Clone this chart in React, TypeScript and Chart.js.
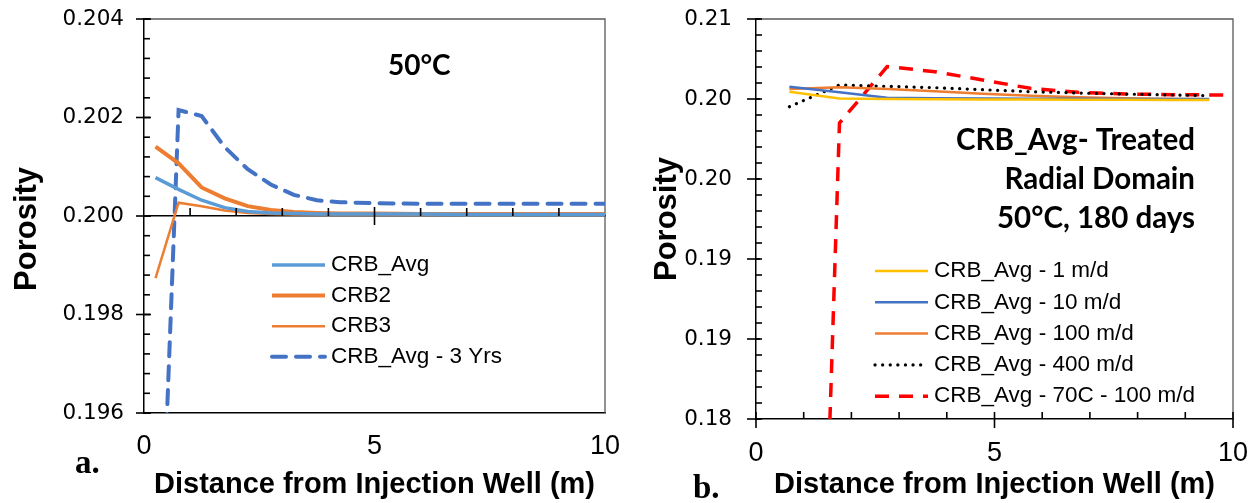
import React, { useEffect, useRef } from 'react';
import { Chart, registerables } from 'chart.js';

Chart.register(...registerables);

// ---------- Panel a. (left) ----------
const leftX = [0.25, 0.75, 1.25, 1.75, 2.25, 2.75, 3.25, 3.75, 4.25, 5, 6, 7, 8, 9, 10];
const crbAvg = [0.20078, 0.20054, 0.20032, 0.20017, 0.20009, 0.20006, 0.20005, 0.20004, 0.20004, 0.20004, 0.20004, 0.20003, 0.20003, 0.20003, 0.20003];
const crb2 = [0.20141, 0.20107, 0.20058, 0.20036, 0.2002, 0.20012, 0.20008, 0.20006, 0.20005, 0.20005, 0.20004, 0.20004, 0.20004, 0.20004, 0.20004];
const crb3 = [0.19874, 0.20027, 0.2002, 0.20011, 0.20006, 0.20004, 0.20003, 0.20003, 0.20003, 0.20003, 0.20003, 0.20003, 0.20003, 0.20003, 0.20003];
const crbAvg3Yrs = [0.18985, 0.20215, 0.20203, 0.2014, 0.20095, 0.20064, 0.20043, 0.20032, 0.20028, 0.20026, 0.20025, 0.20025, 0.20025, 0.20025, 0.20025];
const leftLabels = ['CRB_Avg', 'CRB2', 'CRB3', 'CRB_Avg - 3 Yrs'];
const leftYMin = 0.196;
const leftYMax = 0.204;
const leftYStep = 0.002;
const leftYMinorStep = 0.0004;
const leftBaseline = 0.2;

// ---------- Panel b. (right) ----------
const rightX = [0.7, 1.75, 2.75, 3.75, 4.75, 5.75, 6.75, 7.75, 8.75, 9.5];
const rate1 = [0.20455, 0.20403, 0.204, 0.20398, 0.20397, 0.20396, 0.20395, 0.20394, 0.20393, 0.20393];
const rate10 = [0.20492, 0.2045, 0.2041, 0.20405, 0.20403, 0.20402, 0.20401, 0.204, 0.204, 0.204];
const rate100 = [0.20475, 0.20488, 0.20475, 0.20458, 0.2044, 0.20425, 0.20413, 0.20405, 0.204, 0.20398];
const rate400X = [0.7, 1.75, 2.75, 3.75, 4.75, 5.75, 6.75, 7.75, 8.75, 9.5];
const rate400 = [0.20342, 0.20505, 0.20495, 0.20485, 0.2047, 0.20455, 0.20445, 0.20437, 0.2043, 0.20425];
const hotX = [1.5, 1.75, 2.75, 3.75, 4.75, 5.75, 6.75, 7.75, 8.75, 10];
const hot100 = [0.17445, 0.2022, 0.20643, 0.20605, 0.20543, 0.2048, 0.2045, 0.20438, 0.20432, 0.2043];
const rightLabels = ['CRB_Avg - 1 m/d', 'CRB_Avg - 10 m/d', 'CRB_Avg - 100 m/d', 'CRB_Avg - 400 m/d', 'CRB_Avg - 70C - 100 m/d'];
const rightYMin = 0.18;
const rightYMax = 0.21;
const rightYStep = 0.006;
const rightYMinorStep = 0.0012;

// ---------- shared x axis ----------
const xMin = 0;
const xMax = 10;
const xStep = 5;
const xMajorTicks = [0, 5, 10];
const xMinorTicks = [1, 2, 3, 4, 6, 7, 8, 9];

const SANS = "'Liberation Sans', Arial, sans-serif";

const range = (a: number, b: number, s: number) => {
  const n = Math.round((b - a) / s);
  return Array.from({ length: n + 1 }, (_, i) => +(a + i * s).toFixed(6));
};
const leftYMajorTicks = range(leftYMin, leftYMax, leftYStep);
const leftYMinorTicks = range(leftYMin, leftYMax, leftYMinorStep);
const rightYMajorTicks = range(rightYMin, rightYMax, rightYStep);
const rightYMinorTicks = range(rightYMin, rightYMax, rightYMinorStep);

const pts = (xs: number[], ys: number[]) => xs.map((x, i) => ({ x, y: ys[i] }));

type Mark = { axis: 'x' | 'y'; values: number[]; at: number; from: number; to: number };

const framePlugin = {
  id: 'frame',
  beforeDatasetsDraw(chart: any) {
    const { ctx, chartArea: a } = chart;
    ctx.save();
    ctx.strokeStyle = '#595959';
    ctx.lineWidth = 1.3;
    ctx.beginPath();
    ctx.moveTo(a.left, a.top);
    ctx.lineTo(a.right, a.top);
    ctx.lineTo(a.right, a.bottom);
    ctx.stroke();
    ctx.restore();
  },
};

// tick marks placed through the chart's own scales
function makeTickPlugin(marks: Mark[]) {
  return {
    id: 'tickMarks',
    afterDraw(chart: any) {
      const ctx = chart.ctx;
      const sx = chart.scales.x;
      const sy = chart.scales.y;
      ctx.save();
      ctx.setLineDash([]);
      ctx.lineCap = 'butt';
      ctx.strokeStyle = '#000000';
      ctx.lineWidth = 1.6;
      marks.forEach((m) => {
        m.values.forEach((v) => {
          ctx.beginPath();
          if (m.axis === 'x') {
            const px = sx.getPixelForValue(v);
            const py = sy.getPixelForValue(m.at);
            ctx.moveTo(px, py + m.from);
            ctx.lineTo(px, py + m.to);
          } else {
            const py = sy.getPixelForValue(v);
            const px = sx.getPixelForValue(m.at);
            ctx.moveTo(px + m.from, py);
            ctx.lineTo(px + m.to, py);
          }
          ctx.stroke();
        });
      });
      ctx.restore();
    },
  };
}

type LegendSpec = { x: number; y: number; rowGap: number; sampleWidth: number; gap: number; font: string };
function makeLegendPlugin(spec: LegendSpec) {
  return {
    id: 'insideLegend',
    afterDatasetsDraw(chart: any) {
      const ctx = chart.ctx;
      ctx.save();
      chart.data.datasets.forEach((ds: any, i: number) => {
        const y = spec.y + i * spec.rowGap;
        ctx.beginPath();
        ctx.strokeStyle = ds.borderColor;
        ctx.lineWidth = ds.borderWidth;
        ctx.setLineDash(ds.borderDash || []);
        ctx.lineCap = ds.borderCapStyle || 'butt';
        ctx.moveTo(spec.x, y);
        ctx.lineTo(spec.x + spec.sampleWidth, y);
        ctx.stroke();
        ctx.setLineDash([]);
        ctx.fillStyle = '#000';
        ctx.font = spec.font;
        ctx.textBaseline = 'middle';
        ctx.textAlign = 'left';
        ctx.fillText(ds.label, spec.x + spec.sampleWidth + spec.gap, y);
      });
      ctx.restore();
    },
  };
}

type TextItem = { text: string; x: number; y: number; font: string; align?: string };
function makeTextPlugin(items: TextItem[]) {
  return {
    id: 'texts',
    afterDraw(chart: any) {
      const ctx = chart.ctx;
      ctx.save();
      ctx.fillStyle = '#000';
      ctx.textBaseline = 'alphabetic';
      for (const t of items) {
        ctx.font = t.font;
        ctx.textAlign = t.align || 'left';
        ctx.fillText(t.text, t.x, t.y);
      }
      ctx.restore();
    },
  };
}

function axisX(height: number, pad: number) {
  return {
    type: 'linear',
    position: 'bottom',
    min: xMin,
    max: xMax,
    ticks: {
      stepSize: xStep,
      autoSkip: false,
      maxRotation: 0,
      padding: pad,
      color: '#000',
      font: { family: SANS, size: 27 },
      callback: (v: any) => String(v),
    },
    grid: { display: false, drawTicks: false },
    border: { display: true, color: '#000', width: 1.5 },
    title: {
      display: true,
      text: 'Distance from Injection Well (m)',
      color: '#000',
      font: { family: SANS, size: 29, weight: 'bold' },
      padding: { top: 0, bottom: 1 },
    },
    afterFit: (s: any) => {
      s.height = height;
      s.paddingLeft = 0;
      s.paddingRight = 0;
    },
  };
}

function axisY(min: number, max: number, step: number, digits: number, width: number, pad: number, titleText: string) {
  return {
    type: 'linear',
    position: 'left',
    min,
    max,
    ticks: {
      stepSize: step,
      autoSkip: false,
      padding: pad,
      color: '#000',
      font: { family: "'DejaVu Sans', sans-serif", size: 21.5 },
      callback: (v: any) => Number(v).toFixed(digits),
    },
    grid: { display: false, drawTicks: false },
    border: { display: true, color: '#000', width: 1.5 },
    title: {
      display: true,
      text: titleText,
      color: '#000',
      font: { family: SANS, size: 31, weight: 'bold' },
      padding: { top: 9, bottom: 0 },
    },
    afterFit: (s: any) => {
      s.width = width;
      s.paddingTop = 0;
      s.paddingBottom = 0;
    },
  };
}

function leftConfig(): any {
  return {
    type: 'line',
    data: {
      datasets: [
        { label: leftLabels[0], data: pts(leftX, crbAvg), borderColor: '#5B9BD5', borderWidth: 3.5 },
        { label: leftLabels[1], data: pts(leftX, crb2), borderColor: '#ED7D31', borderWidth: 4 },
        { label: leftLabels[2], data: pts(leftX, crb3), borderColor: '#ED7D31', borderWidth: 2.5 },
        { label: leftLabels[3], data: pts(leftX, crbAvg3Yrs), borderColor: '#4472C4', borderWidth: 4, borderDash: [14, 10], borderCapStyle: 'round' },
      ].map((d) => ({ ...d, pointRadius: 0, tension: 0, fill: false })),
    },
    options: {
      responsive: false,
      animation: false,
      layout: { padding: { top: 19, right: 35, bottom: 0, left: 0 } },
      plugins: {
        legend: { display: false },
        tooltip: { enabled: false },
      },
      scales: {
        x: axisX(90, 17),
        xMid: {
          type: 'linear',
          axis: 'x',
          position: { y: leftBaseline },
          min: xMin,
          max: xMax,
          ticks: { display: false },
          grid: { display: false, drawTicks: false },
          border: { display: true, color: '#000', width: 1.5 },
        },
        y: axisY(leftYMin, leftYMax, leftYStep, 3, 144, 20, 'Porosity   '),
      },
    },
    plugins: [
      framePlugin,
      makeTickPlugin([
        { axis: 'y', values: leftYMajorTicks, at: xMin, from: -8, to: 7 },
        { axis: 'y', values: leftYMinorTicks, at: xMin, from: 0, to: 6 },
        { axis: 'x', values: xMinorTicks, at: leftBaseline, from: -8, to: 0 },
        { axis: 'x', values: [5], at: leftBaseline, from: -9, to: 9 },
      ]),
      makeLegendPlugin({ x: 272, y: 265, rowGap: 30.6, sampleWidth: 53, gap: 6, font: `22.5px ${SANS}` }),
      makeTextPlugin([
        { text: '50°C', x: 388, y: 75, font: 'bold 28px Lato, sans-serif' },
        { text: 'a.', x: 75, y: 473, font: "bold 33px 'Liberation Serif', serif" },
      ]),
    ],
  };
}

function rightConfig(): any {
  return {
    type: 'line',
    data: {
      datasets: [
        { label: rightLabels[0], data: pts(rightX, rate1), borderColor: '#FFC000', borderWidth: 2.5 },
        { label: rightLabels[1], data: pts(rightX, rate10), borderColor: '#4472C4', borderWidth: 2.5 },
        { label: rightLabels[2], data: pts(rightX, rate100), borderColor: '#ED7D31', borderWidth: 2.5 },
        { label: rightLabels[3], data: pts(rate400X, rate400), borderColor: '#000000', borderWidth: 3.2, borderDash: [0.1, 7.5], borderCapStyle: 'round' },
        { label: rightLabels[4], data: pts(hotX, hot100), borderColor: '#FF0000', borderWidth: 3.5, borderDash: [14, 10] },
      ].map((d) => ({ ...d, pointRadius: 0, tension: 0, fill: false })),
    },
    options: {
      responsive: false,
      animation: false,
      layout: { padding: { top: 19, right: 24, bottom: 0, left: 0 } },
      plugins: {
        legend: { display: false },
        tooltip: { enabled: false },
      },
      scales: {
        x: axisX(84, 18),
        y: axisY(rightYMin, rightYMax, rightYStep, 2, 116, 24, 'Porosity'),
      },
    },
    plugins: [
      framePlugin,
      makeTickPlugin([
        { axis: 'y', values: rightYMajorTicks, at: xMin, from: -9, to: 4 },
        { axis: 'y', values: rightYMinorTicks, at: xMin, from: 0, to: 6 },
        { axis: 'x', values: xMajorTicks, at: rightYMin, from: -7, to: 9 },
        { axis: 'x', values: xMinorTicks, at: rightYMin, from: -7, to: 0 },
      ]),
      makeLegendPlugin({ x: 235, y: 271, rowGap: 31.3, sampleWidth: 53, gap: 6, font: `22.5px ${SANS}` }),
      makeTextPlugin([
        { text: 'CRB_Avg- Treated', x: 555, y: 150, font: 'bold 29.5px Lato, sans-serif', align: 'right' },
        { text: 'Radial Domain', x: 555, y: 189, font: 'bold 29.5px Lato, sans-serif', align: 'right' },
        { text: '50°C, 180 days', x: 555, y: 228, font: 'bold 29.5px Lato, sans-serif', align: 'right' },
        { text: 'b.', x: 53, y: 498, font: "bold 33px 'Liberation Serif', serif" },
      ]),
    ],
  };
}

function Panel({ make, left, width }: { make: () => any; left: number; width: number }) {
  const ref = useRef<HTMLCanvasElement | null>(null);
  useEffect(() => {
    if (!ref.current) return;
    const chart = new Chart(ref.current, make());
    return () => chart.destroy();
  }, []);
  return (
    <canvas
      ref={ref}
      width={width}
      height={503}
      style={{ position: 'absolute', left, top: 0, width, height: 503, display: 'block' }}
    />
  );
}

export default function App() {
  return (
    <div style={{ position: 'absolute', left: 0, top: 0, width: 1257, height: 503, background: '#fff' }}>
      <Panel make={leftConfig} left={0} width={640} />
      <Panel make={rightConfig} left={640} width={617} />
    </div>
  );
}
